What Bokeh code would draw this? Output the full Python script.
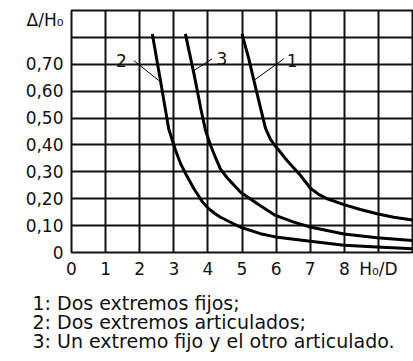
from bokeh.plotting import figure
from bokeh.models import Range1d, FixedTicker, Label, Title
from bokeh.embed import file_html
from bokeh.resources import INLINE

# ---- data ----
# Curve 1: Dos extremos fijos
c1_x = [5.0, 5.2, 5.35, 5.5, 5.69, 5.84, 5.98, 6.32, 6.72, 7.0, 7.25, 7.5, 7.99, 8.47, 8.96, 9.45, 10.0]
c1_y = [0.813, 0.72, 0.639, 0.56, 0.462, 0.42, 0.396, 0.342, 0.286, 0.24, 0.216, 0.2, 0.178, 0.16, 0.144, 0.131, 0.121]
# Curve 2: Dos extremos articulados
c2_x = [2.37, 2.61, 2.85, 2.95, 3.05, 3.2, 3.34, 3.59, 3.83, 3.98, 4.2, 4.37, 4.96, 5.54, 5.98, 6.52, 7.25, 7.99, 8.96, 10.0]
c2_y = [0.813, 0.639, 0.46, 0.42, 0.38, 0.33, 0.295, 0.237, 0.19, 0.168, 0.145, 0.131, 0.094, 0.07, 0.058, 0.049, 0.038, 0.027, 0.02, 0.014]
# Curve 3: Un extremo fijo y el otro articulado
c3_x = [3.34, 3.59, 3.8, 3.93, 4.08, 4.22, 4.37, 4.57, 4.96, 5.45, 5.98, 6.52, 6.96, 7.99, 8.96, 10.0]
c3_y = [0.813, 0.665, 0.53, 0.454, 0.398, 0.354, 0.31, 0.277, 0.224, 0.181, 0.138, 0.113, 0.096, 0.069, 0.055, 0.045]

x_ticks = [0, 1, 2, 3, 4, 5, 6, 7, 8, 9]
x_tick_labels = ["0", "1", "2", "3", "4", "5", "6", "7", "8", "H₀/D"]
y_ticks = [0, 0.1, 0.2, 0.3, 0.4, 0.5, 0.6, 0.7, 0.865]
y_tick_labels = ["0", "0,10", "0,20", "0,30", "0,40", "0,50", "0,60", "0,70", "Δ/H₀"]
x_grid = [1, 2, 3, 4, 5, 6, 7, 8, 9]
y_grid = [0.1, 0.2, 0.3, 0.4, 0.5, 0.6, 0.7, 0.8]

legend_lines = [
    "1: Dos extremos fijos;",
    "2: Dos extremos articulados;",
    "3: Un extremo fijo y el otro articulado.",
]

FONT = "DejaVu Sans"

p = figure(width=413, height=361, output_backend="svg", toolbar_location=None,
           x_range=Range1d(0, 10), y_range=Range1d(0, 0.9),
           min_border_left=71, min_border_right=1, min_border_top=10,
           min_border_bottom=109)
p.background_fill_color = "white"
p.border_fill_color = "white"
p.outline_line_color = "#111111"
p.outline_line_width = 2

# grid
p.xgrid.ticker = FixedTicker(ticks=x_grid)
p.ygrid.ticker = FixedTicker(ticks=y_grid)
for g in (p.xgrid, p.ygrid):
    g.grid_line_color = "#111111"
    g.grid_line_width = 2
    g.grid_line_alpha = 1.0

# axes
p.xaxis.ticker = FixedTicker(ticks=x_ticks)
p.yaxis.ticker = FixedTicker(ticks=y_ticks)
p.xaxis.major_label_overrides = {t: l for t, l in zip(x_ticks, x_tick_labels)}
p.yaxis.major_label_overrides = {t: l for t, l in zip(y_ticks, y_tick_labels)}
for ax in (p.xaxis, p.yaxis):
    ax.axis_line_color = None
    ax.major_tick_line_color = None
    ax.minor_tick_line_color = None
    ax.major_tick_out = 0
    ax.major_tick_in = 0
    ax.major_label_text_font = FONT
    ax.major_label_text_font_size = "17px"
    ax.major_label_text_color = "#111111"
p.yaxis.major_label_standoff = 8
p.xaxis.major_label_standoff = 6

# curves
for xs, ys in ((c1_x, c1_y), (c2_x, c2_y), (c3_x, c3_y)):
    p.line(xs, ys, line_color="black", line_width=3, line_join="round")

# leader lines
p.line([1.827, 2.560], [0.714, 0.6396], line_color="black", line_width=1)
p.line([4.126, 3.587], [0.7203, 0.6769], line_color="black", line_width=1)
p.line([6.226, 5.346], [0.7203, 0.6396], line_color="black", line_width=1)

def lab(x, y, text, size="17px", align="center"):
    p.add_layout(Label(x=x, y=y, text=text, text_font=FONT, text_font_size=size,
                       text_color="#111111", text_align=align,
                       text_baseline="alphabetic"))

# curve numbers
lab(1.466, 0.714, "2")
lab(4.413, 0.7215, "3")
lab(6.472, 0.714, "1")

# explanation text under the chart
t = Title(text="\n".join(legend_lines), align="left", offset=-39, standoff=16,
          text_font=FONT, text_font_size="19px", text_font_style="normal",
          text_color="#111111", text_line_height=0.88)
p.add_layout(t, "below")

open("out.html", "w").write(file_html(p, INLINE))
